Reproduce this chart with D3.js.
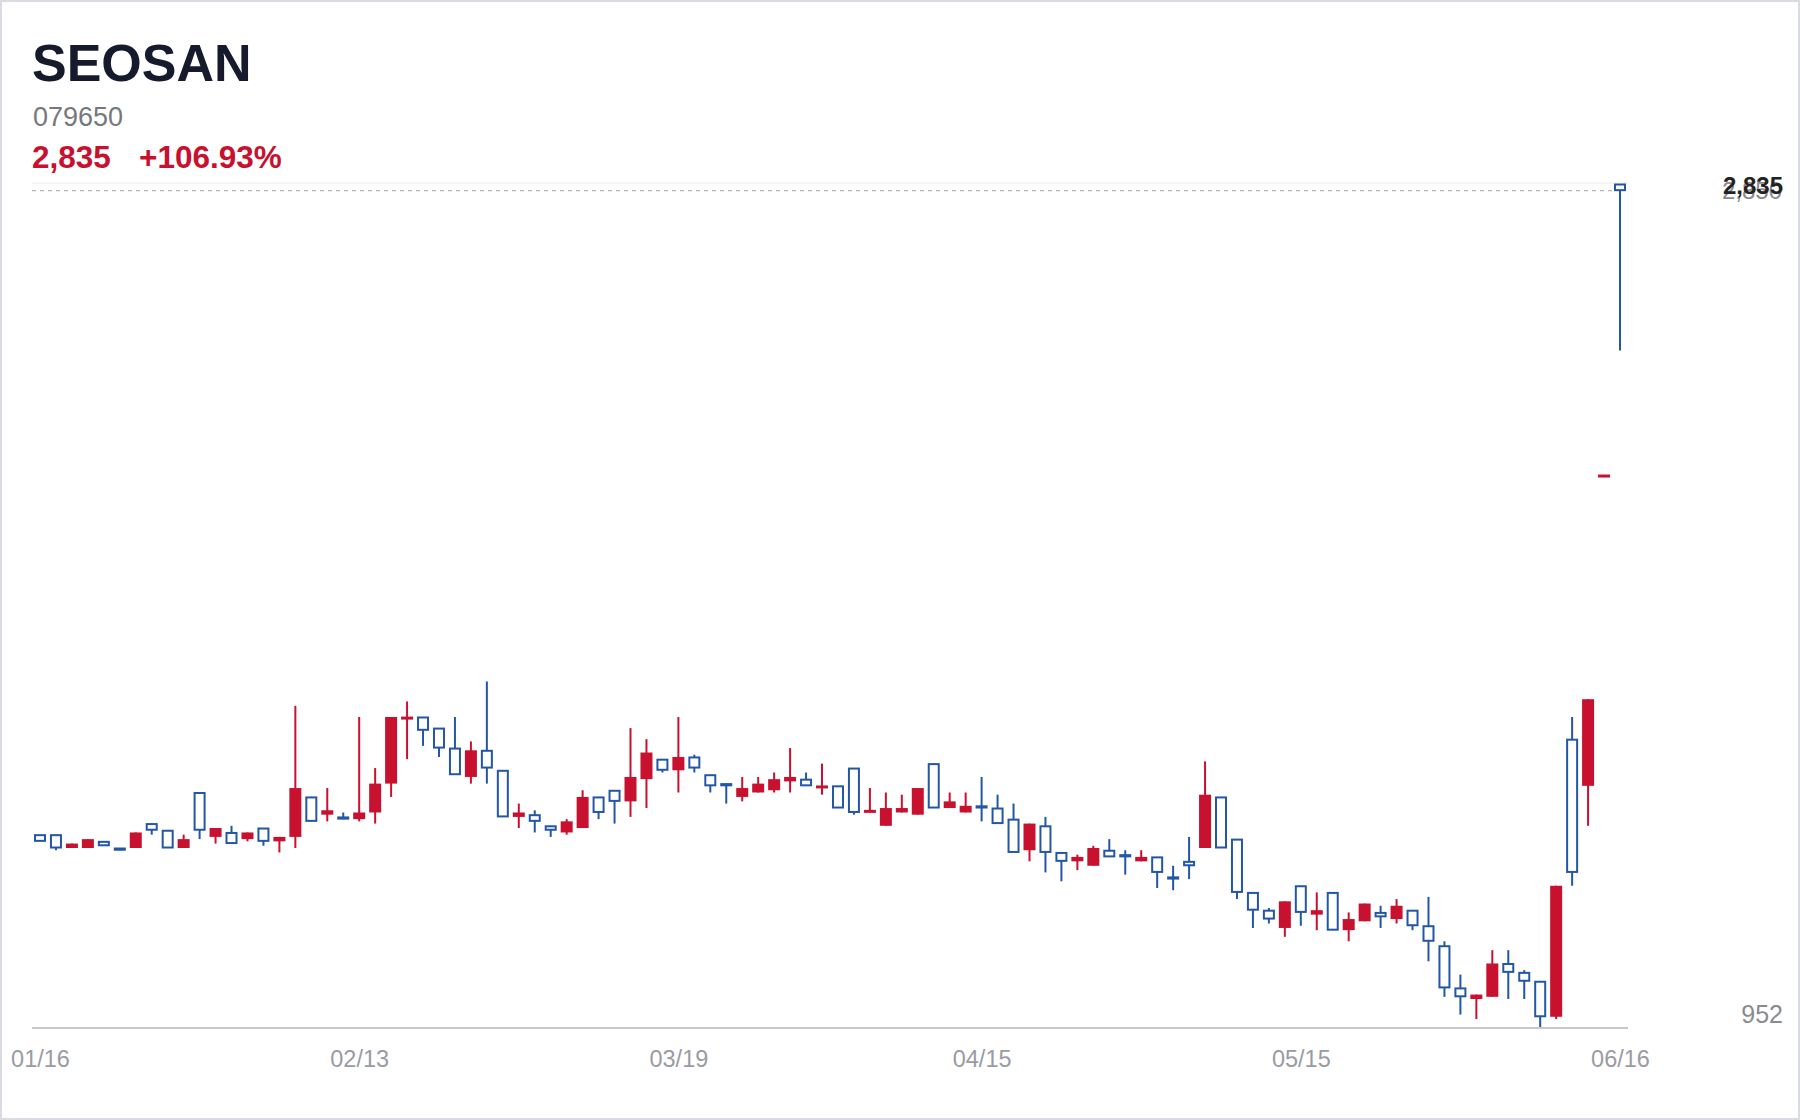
<!DOCTYPE html>
<html>
<head>
<meta charset="utf-8">
<script src="https://cdn.jsdelivr.net/npm/d3@7"></script>
<style>
  html, body { margin: 0; padding: 0; background: #fff; }
  svg { display: block; font-family: "Liberation Sans", Arial, Helvetica, sans-serif; }
</style>
</head>
<body>
<svg id="chart" width="1800" height="1120"></svg>
<script>
const title = "SEOSAN";
const code = "079650";

const dates = [
  "01/16","01/17","01/20","01/21","01/22","01/23","01/24","01/27","01/28","01/29","01/30","01/31",
  "02/03","02/04","02/05","02/06","02/07","02/10","02/11","02/12","02/13",
  "02/14","02/18","02/19","02/20","02/21","02/25","02/26","02/27","02/28",
  "03/04","03/05","03/06","03/07","03/11","03/12","03/13","03/14","03/17","03/18","03/19",
  "03/20","03/21","03/24","03/25","03/26","03/27","03/28","03/31",
  "04/01","04/02","04/03","04/04","04/07","04/08","04/09","04/10","04/11","04/14","04/15",
  "04/16","04/17","04/18","04/21","04/22","04/23","04/24","04/25","04/28","04/29","04/30",
  "05/02","05/06","05/07","05/08","05/09","05/12","05/13","05/14","05/15",
  "05/16","05/19","05/20","05/21","05/22","05/23","05/26","05/27","05/28","05/29","05/30",
  "06/02","06/04","06/05","06/09","06/10","06/11","06/12","06/13","06/16"
];

const tickLabels = ["01/16","02/13","03/19","04/15","05/15","06/16"];

const opens = [
  1385,1385,1355,1355,1370,1355,1355,1410,1395,1355,
  1480,1380,1390,1375,1400,1370,1380,1470,1430,1425,
  1420,1435,1500,1645,1650,1625,1580,1515,1575,1530,
  1425,1430,1405,1390,1400,1470,1485,1460,1510,1555,
  1530,1560,1520,1500,1470,1480,1485,1505,1510,1490,
  1495,1535,1435,1405,1435,1430,1545,1445,1435,1450,
  1445,1420,1350,1405,1345,1325,1315,1350,1340,1325,
  1335,1290,1325,1355,1470,1375,1255,1215,1175,1270,
  1205,1255,1170,1190,1210,1195,1215,1180,1135,1040,
  1015,1020,1095,1075,1055,975,1600,1495,2190,2850
];
const highs = [
  1385,1385,1365,1375,1370,1355,1390,1410,1395,1385,
  1480,1400,1405,1390,1400,1380,1675,1470,1490,1435,
  1650,1535,1650,1685,1650,1625,1650,1595,1730,1530,
  1455,1440,1405,1420,1485,1470,1485,1625,1600,1555,
  1650,1565,1520,1500,1515,1515,1525,1580,1525,1545,
  1495,1535,1490,1480,1475,1490,1545,1480,1480,1515,
  1475,1455,1410,1425,1345,1340,1360,1375,1350,1350,
  1335,1315,1380,1550,1470,1375,1255,1220,1235,1270,
  1255,1255,1210,1230,1225,1240,1215,1245,1145,1070,
  1025,1125,1125,1080,1055,1270,1650,1690,2195,2850
];
const lows = [
  1370,1350,1355,1355,1360,1350,1355,1385,1355,1355,
  1375,1365,1365,1370,1360,1345,1355,1415,1415,1420,
  1415,1410,1470,1555,1585,1560,1520,1500,1500,1425,
  1400,1390,1380,1385,1400,1420,1410,1425,1445,1525,
  1480,1525,1480,1455,1460,1480,1480,1480,1495,1475,
  1445,1430,1435,1405,1435,1430,1445,1445,1435,1415,
  1410,1345,1325,1300,1280,1305,1315,1335,1295,1325,
  1265,1260,1285,1355,1355,1240,1175,1185,1155,1180,
  1170,1170,1145,1190,1175,1185,1170,1100,1020,980,
  970,1020,1015,1015,952,970,1270,1405,2190,2475
];
const closes = [
  1370,1355,1365,1375,1360,1350,1390,1395,1355,1375,
  1395,1400,1365,1390,1370,1380,1490,1415,1440,1420,
  1435,1500,1650,1650,1620,1580,1520,1575,1535,1425,
  1435,1415,1395,1415,1470,1435,1460,1515,1570,1530,
  1560,1535,1495,1495,1490,1500,1510,1515,1495,1495,
  1445,1435,1440,1445,1445,1490,1445,1460,1450,1445,
  1410,1345,1410,1345,1325,1335,1355,1335,1335,1335,
  1300,1285,1315,1475,1355,1255,1215,1195,1235,1210,
  1215,1170,1195,1230,1200,1225,1180,1145,1040,1020,
  1025,1095,1075,1055,975,1270,1300,1690,2195,2835
];

const RED = "#c8112f";
const BLUE = "#2456a6";

const svg = d3.select("#chart");
const W = 1800, H = 1120;

svg.append("rect").attr("x", 0).attr("y", 0).attr("width", W).attr("height", H).attr("fill", "#fff");
svg.append("rect").attr("x", 1).attr("y", 1).attr("width", W - 2).attr("height", H - 2)
  .attr("fill", "none").attr("stroke", "#dadae2").attr("stroke-width", 2);

const data = dates.map((d, i) => ({ date: d, o: opens[i], h: highs[i], l: lows[i], c: closes[i] }));
const minLow = d3.min(lows), maxHigh = d3.max(highs);
const last = data[data.length - 1];
const base = closes[0];
const pct = (last.c / base - 1) * 100;
const fmt = d3.format(",");

// Header
svg.append("text").attr("x", 32).attr("y", 81).attr("font-size", 52).attr("font-weight", "bold")
  .attr("fill", "#151a2d").text(title);
svg.append("text").attr("x", 33).attr("y", 126).attr("font-size", 27).attr("fill", "#77787e").text(code);
svg.append("text").attr("x", 32).attr("y", 168).attr("font-size", 31.5).attr("font-weight", "bold")
  .attr("fill", RED).text(fmt(last.c));
svg.append("text").attr("x", 139).attr("y", 168).attr("font-size", 31.5).attr("font-weight", "bold")
  .attr("fill", RED).text((pct >= 0 ? "+" : "") + pct.toFixed(2) + "%");

// Scales
const x = d3.scalePoint().domain(dates).range([40, 1620]);
const y = d3.scaleLinear().domain([minLow, maxHigh]).range([1027, 184]);

// top reference line (max) and dashed last-close line
svg.append("line").attr("x1", 32).attr("x2", 1628).attr("y1", y(maxHigh) - 1).attr("y2", y(maxHigh) - 1)
  .attr("stroke", "#ececef").attr("stroke-width", 1);
svg.append("line").attr("x1", 32).attr("x2", 1616).attr("y1", y(last.c)).attr("y2", y(last.c))
  .attr("stroke", "#b5b5ba").attr("stroke-width", 1.4).attr("stroke-dasharray", "4,4");

// X axis
const xAxis = d3.axisBottom(x).tickValues(tickLabels).tickSize(0).tickPadding(0);
const gx = svg.append("g").attr("transform", "translate(0,1027)").call(xAxis);
gx.select(".domain").remove();
gx.selectAll("text").attr("font-size", 23.5).attr("fill", "#9a9ba3")
  .attr("font-family", "'Liberation Sans', Arial, sans-serif").attr("dy", 0).attr("y", 40);
svg.append("line").attr("x1", 32).attr("x2", 1628).attr("y1", 1028).attr("y2", 1028)
  .attr("stroke", "#c8c8cc").attr("stroke-width", 2);

// Candles
const g = svg.append("g");
const candles = g.selectAll("g.c").data(data).join("g").attr("class", "c");
candles.append("line")
  .attr("x1", d => x(d.date)).attr("x2", d => x(d.date))
  .attr("y1", d => y(d.h)).attr("y2", d => y(d.l))
  .attr("stroke", d => d.c >= d.o ? RED : BLUE).attr("stroke-width", 2);
candles.each(function(d) {
  const sel = d3.select(this);
  const cx = x(d.date);
  if (d.c >= d.o) {
    const top = y(d.c), bot = y(d.o);
    const hgt = Math.max(bot - top, 3);
    sel.append("rect").attr("x", cx - 6).attr("width", 12)
      .attr("y", (top + bot) / 2 - hgt / 2).attr("height", hgt).attr("fill", RED);
  } else {
    const top = y(d.o), bot = y(d.c);
    const hgt = Math.max(bot - top - 1, 1);
    sel.append("rect").attr("x", cx - 5).attr("width", 10)
      .attr("y", top + 0.5).attr("height", hgt).attr("fill", "#fff")
      .attr("stroke", BLUE).attr("stroke-width", 2);
  }
});

// Right labels
svg.append("text").attr("x", 1782).attr("y", y(maxHigh) + 15).attr("text-anchor", "end")
  .attr("font-size", 24).attr("fill", "#8a8a8f").text(fmt(maxHigh));
svg.append("text").attr("x", 1783).attr("y", y(last.c) + 3).attr("text-anchor", "end")
  .attr("font-size", 24).attr("font-weight", "bold").attr("fill", "#222").text(fmt(last.c));
svg.append("text").attr("x", 1783).attr("y", y(minLow) - 4).attr("text-anchor", "end")
  .attr("font-size", 25).attr("fill", "#8a8a8f").text(fmt(minLow));
</script>
</body>
</html>
